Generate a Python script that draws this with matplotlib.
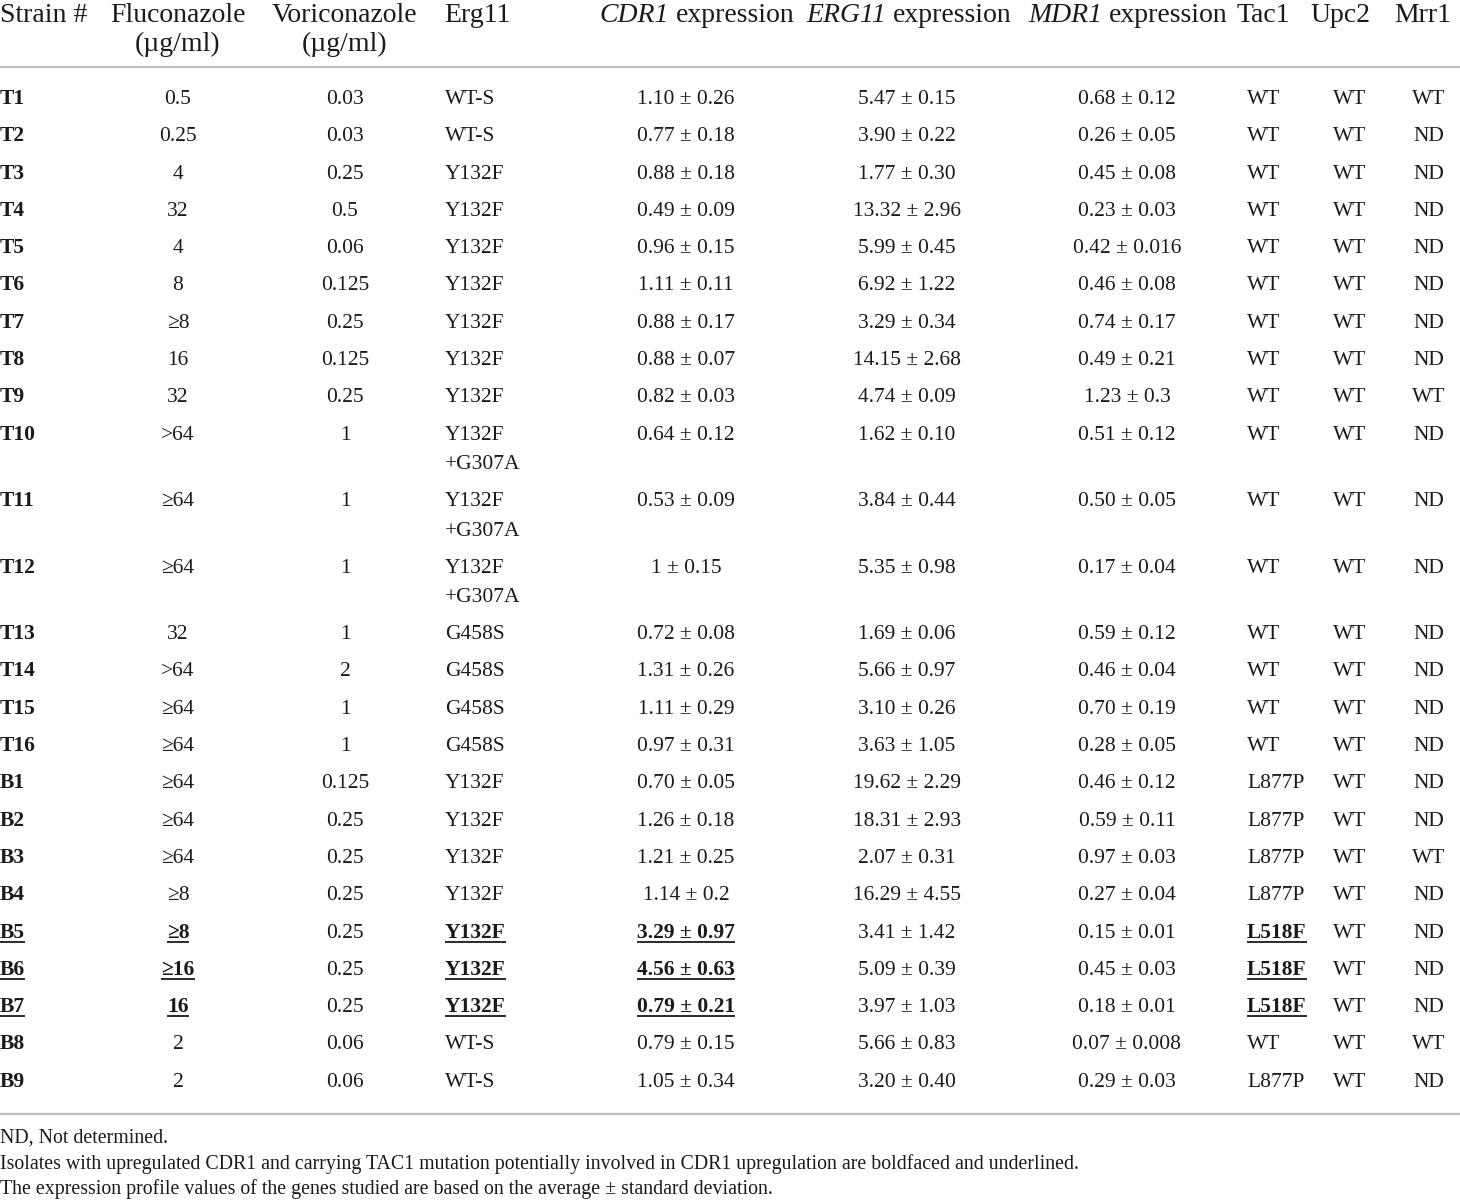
import matplotlib
matplotlib.use('Agg')
import matplotlib.pyplot as plt

plt.rcParams['font.family'] = ['Liberation Serif', 'DejaVu Serif']

# Table data
strains = ['T1', 'T2', 'T3', 'T4', 'T5', 'T6', 'T7', 'T8', 'T9', 'T10', 'T11', 'T12',
           'T13', 'T14', 'T15', 'T16', 'B1', 'B2', 'B3', 'B4', 'B5', 'B6', 'B7', 'B8', 'B9']
fluconazole = ['0.5', '0.25', '4', '32', '4', '8', '≥8', '16', '32', '>64', '≥64', '≥64',
               '32', '>64', '≥64', '≥64', '≥64', '≥64', '≥64', '≥8', '≥8', '≥16', '16', '2', '2']
voriconazole = ['0.03', '0.03', '0.25', '0.5', '0.06', '0.125', '0.25', '0.125', '0.25', '1', '1', '1',
                '1', '2', '1', '1', '0.125', '0.25', '0.25', '0.25', '0.25', '0.25', '0.25', '0.06', '0.06']
erg11 = ['WT-S', 'WT-S'] + ['Y132F'] * 7 + ['Y132F\n+G307A'] * 3 + ['G458S'] * 4 \
    + ['Y132F'] * 7 + ['WT-S', 'WT-S']
cdr1_expr = ['1.10 ± 0.26', '0.77 ± 0.18', '0.88 ± 0.18', '0.49 ± 0.09', '0.96 ± 0.15',
             '1.11 ± 0.11', '0.88 ± 0.17', '0.88 ± 0.07', '0.82 ± 0.03', '0.64 ± 0.12',
             '0.53 ± 0.09', '1 ± 0.15', '0.72 ± 0.08', '1.31 ± 0.26', '1.11 ± 0.29',
             '0.97 ± 0.31', '0.70 ± 0.05', '1.26 ± 0.18', '1.21 ± 0.25', '1.14 ± 0.2',
             '3.29 ± 0.97', '4.56 ± 0.63', '0.79 ± 0.21', '0.79 ± 0.15', '1.05 ± 0.34']
erg11_expr = ['5.47 ± 0.15', '3.90 ± 0.22', '1.77 ± 0.30', '13.32 ± 2.96', '5.99 ± 0.45',
              '6.92 ± 1.22', '3.29 ± 0.34', '14.15 ± 2.68', '4.74 ± 0.09', '1.62 ± 0.10',
              '3.84 ± 0.44', '5.35 ± 0.98', '1.69 ± 0.06', '5.66 ± 0.97', '3.10 ± 0.26',
              '3.63 ± 1.05', '19.62 ± 2.29', '18.31 ± 2.93', '2.07 ± 0.31', '16.29 ± 4.55',
              '3.41 ± 1.42', '5.09 ± 0.39', '3.97 ± 1.03', '5.66 ± 0.83', '3.20 ± 0.40']
mdr1_expr = ['0.68 ± 0.12', '0.26 ± 0.05', '0.45 ± 0.08', '0.23 ± 0.03', '0.42 ± 0.016',
             '0.46 ± 0.08', '0.74 ± 0.17', '0.49 ± 0.21', '1.23 ± 0.3', '0.51 ± 0.12',
             '0.50 ± 0.05', '0.17 ± 0.04', '0.59 ± 0.12', '0.46 ± 0.04', '0.70 ± 0.19',
             '0.28 ± 0.05', '0.46 ± 0.12', '0.59 ± 0.11', '0.97 ± 0.03', '0.27 ± 0.04',
             '0.15 ± 0.01', '0.45 ± 0.03', '0.18 ± 0.01', '0.07 ± 0.008', '0.29 ± 0.03']
tac1 = ['WT'] * 16 + ['L877P'] * 4 + ['L518F'] * 3 + ['WT', 'L877P']
upc2 = ['WT'] * 25
mrr1 = ['WT'] + ['ND'] * 7 + ['WT'] + ['ND'] * 7 + ['ND', 'ND', 'WT', 'ND', 'ND', 'ND', 'ND', 'WT', 'ND']
highlighted = ['B5', 'B6', 'B7']

# header: (italic gene name, plain text)
headers = [('', 'Strain #'), ('', 'Fluconazole\n(µg/ml)'), ('', 'Voriconazole\n(µg/ml)'),
           ('', 'Erg11'), ('CDR1', 'expression'), ('ERG11', 'expression'),
           ('MDR1', 'expression'), ('', 'Tac1'), ('', 'Upc2'), ('', 'Mrr1')]
footnotes = ['ND, Not determined.',
             'Isolates with upregulated CDR1 and carrying TAC1 mutation potentially involved '
             'in CDR1 upregulation are boldfaced and underlined.',
             'The expression profile values of the genes studied are based on the average ± standard deviation.']

columns = [strains, fluconazole, voriconazole, erg11, cdr1_expr, erg11_expr, mdr1_expr, tac1, upc2, mrr1]
underlined_cols = [0, 1, 3, 4, 7]

# layout (pixels)
col_x = [0, 178, 345, 445, 686, 907, 1127, 1247, 1350, 1429]
col_ha = ['left', 'center', 'center', 'left', 'center', 'center', 'center', 'left', 'center', 'center']
head_x = [0, 178, 345, 477, 697, 909, 1128, 1263, 1340, 1423]
head_ha = ['left', 'center', 'center', 'center', 'center', 'center', 'center', 'center', 'center', 'center']

body_fs = 15.5
head_fs = 20
text_color = '#1a1a1a'

fig = plt.figure(figsize=(14.6, 12), dpi=100)
ax = fig.add_axes([0, 0, 1, 1])
ax.set_xlim(0, 1460)
ax.set_ylim(1200, 0)
ax.axis('off')
renderer = fig.canvas.get_renderer()
inv = ax.transData.inverted()


def text_width(t):
    bb = t.get_window_extent(renderer)
    return inv.transform((bb.x1, 0))[0] - inv.transform((bb.x0, 0))[0]


# width of a space at header size
probe1 = ax.text(0, 0, 'a a', fontsize=head_fs)
probe2 = ax.text(0, 0, 'aa', fontsize=head_fs)
space_w = text_width(probe1) - text_width(probe2)
probe1.remove()
probe2.remove()

# headers
head_base = 22
for x, ha, (ital, plain) in zip(head_x, head_ha, headers):
    if ital:
        t1 = ax.text(0, head_base, ital, ha='left', va='baseline', fontsize=head_fs,
                     style='italic', color=text_color)
        t2 = ax.text(0, head_base, plain, ha='left', va='baseline', fontsize=head_fs,
                     color=text_color)
        w1, w2 = text_width(t1), text_width(t2)
        start = x - (w1 + space_w + w2) / 2
        t1.set_x(start)
        t2.set_x(start + w1 + space_w)
    else:
        for k, line in enumerate(plain.split('\n')):
            ax.text(x, head_base + k * 29, line, ha=ha, va='baseline', fontsize=head_fs,
                    color=text_color)

ax.plot([0, 1460], [67, 67], color='#bdbdbd', lw=1.6, solid_capstyle='butt')

# row positions
row_y = []
y = 97
for i in range(len(strains)):
    row_y.append(y)
    y += 66.5 if '\n' in erg11[i] else 37.3

to_underline = []
for c, (vals, x, ha) in enumerate(zip(columns, col_x, col_ha)):
    for i, v in enumerate(vals):
        hl = strains[i] in highlighted and c in underlined_cols
        bold = c == 0 or hl
        for k, line in enumerate(v.split('\n')):
            t = ax.text(x, row_y[i] + 7 + k * 29.5, line, ha=ha, va='baseline',
                        fontsize=body_fs, color=text_color,
                        fontweight='bold' if bold else 'normal')
            if hl:
                to_underline.append((t, row_y[i] + 7 + k * 29.5))

ax.plot([0, 1460], [1114, 1114], color='#bdbdbd', lw=1.6, solid_capstyle='butt')

for k, note in enumerate(footnotes):
    ax.text(0, 1143 + k * 25.5, note, ha='left', va='baseline', fontsize=14.3, color=text_color)

# underline the highlighted cells
fig.canvas.draw()
for t, base in to_underline:
    bb = t.get_window_extent(renderer)
    x0 = inv.transform((bb.x0, 0))[0]
    x1 = inv.transform((bb.x1, 0))[0]
    ax.plot([x0, x1], [base + 4, base + 4], color=text_color, lw=1.3, solid_capstyle='butt')

fig.savefig('out.png', dpi=100, facecolor='white')
